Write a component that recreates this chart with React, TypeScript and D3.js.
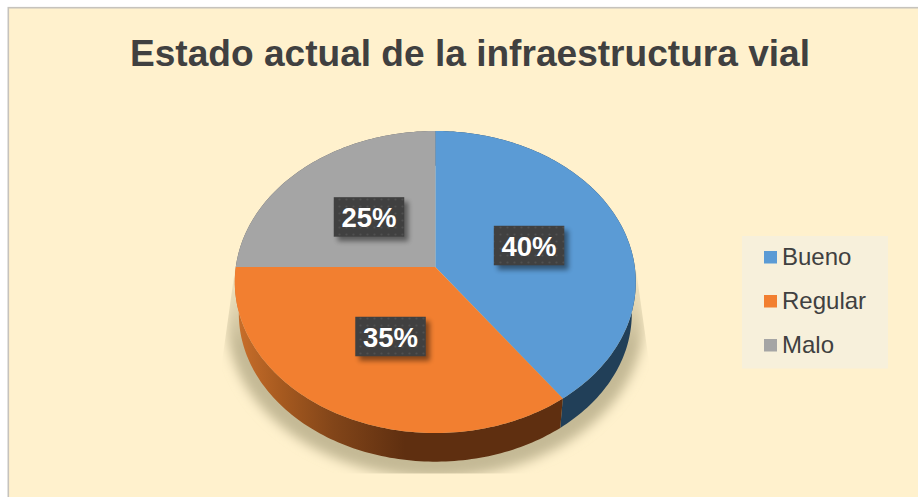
import React from "react";
import * as d3 from "d3";

const categories = ["Bueno", "Regular", "Malo"];
const values = [40, 35, 25];
const colors = ["#5b9bd5", "#f27f30", "#a5a5a5"];
const sideColors = ["#213f58", "url(#orangeSide)", "#5a5a5a"];
const title = "Estado actual de la infraestructura vial";

const W = 918;
const H = 497;
const cx = 435.3;
const cy = 267;
const rx = 199.5;
const ryy = 149.5;
const persp = 0.0993; // foreshortening of the tilted disc
const depth = 32;
const lowScale = 0.98; // lower rim sits a bit further from the viewer

// labels were dragged by hand in the original, so they sit a little off the slice middle
const labelNudgeX = [-0.6, 3.1, 2.5];
const labelNudgeY = [1.5, -0.9, 1.5];

// angle (clockwise from 12 o'clock) -> screen point on the tilted disc
const project = (a: number, f = 1, dy = 0): [number, number] => {
  const u = Math.sin(a) * f;
  const v = Math.cos(a) * f;
  const d = 1 + persp * v;
  return [cx + (rx * u) / d, cy - (ryy * v) / d + dy];
};

const rim = (a0: number, a1: number, f = 1, dy = 0) => {
  const n = Math.max(2, Math.ceil(Math.abs(a1 - a0) / 0.02));
  return d3.range(n + 1).map((i) => project(a0 + ((a1 - a0) * i) / n, f, dy));
};

const line = d3.line();
const pieGen = d3.pie<number>().sort(null);
const arcs = pieGen(values);

const legendY = d3.scalePoint<string>().domain(categories).range([257, 345]);

export default function App() {
  const shadow = rim(Math.PI * 0.5, Math.PI * 1.5, 1.04, 37);
  const shadowShape: [number, number][] = [[cx + rx + 30, cy - 20], ...shadow, [cx - rx - 30, cy - 20]];

  return (
    <svg
      width={W}
      height={H}
      style={{ position: "absolute", left: 0, top: 0, display: "block", background: "#ffffff" }}
    >
      <defs>
        <linearGradient id="orangeSide" gradientUnits="userSpaceOnUse" x1={238} x2={405} y1={0} y2={0}>
          <stop offset="0" stopColor="#c86e2a" />
          <stop offset="0.27" stopColor="#a5591f" />
          <stop offset="0.57" stopColor="#824519" />
          <stop offset="1" stopColor="#5f2f10" />
        </linearGradient>
        <linearGradient id="shadowFill" gradientUnits="userSpaceOnUse" x1={0} x2={0} y1={262} y2={345}>
          <stop offset="0" stopColor="#c9bd9a" stopOpacity={0.05} />
          <stop offset="1" stopColor="#c4b995" stopOpacity={1} />
        </linearGradient>
        <pattern id="dots" width={7} height={7} patternUnits="userSpaceOnUse">
          <rect width={7} height={7} fill="#404040" />
          <circle cx={3.5} cy={3.5} r={1.1} fill="#505050" />
        </pattern>
        <filter id="blur" x="-10%" y="-10%" width="120%" height="120%">
          <feGaussianBlur stdDeviation={6} />
        </filter>
        <filter id="boxShadow" x="-30%" y="-30%" width="170%" height="180%">
          <feGaussianBlur stdDeviation={2.5} />
        </filter>
        <clipPath id="shadowClip">
          <path d="M236,262 L222,362 L222,473.5 L649,473.5 L649,362 L635,262 Z" />
        </clipPath>
      </defs>

      {/* chart area with its thin border */}
      <rect x={8.3} y={7.7} width={W} height={H} fill="#fff1cd" stroke="#c6c3bd" strokeWidth={1.6} />

      <text
        x={470}
        y={66}
        textAnchor="middle"
        fontFamily="'Liberation Sans', Arial, sans-serif"
        fontWeight={700}
        fontSize={37.1}
        fill="#404040"
      >
        {title}
      </text>

      {/* soft shadow under the disc */}
      <g clipPath="url(#shadowClip)">
        <path d={line(shadowShape) + "Z"} fill="url(#shadowFill)" filter="url(#blur)" />
      </g>

      {/* side wall */}
      {arcs.map((a, i) => {
        const top = rim(a.startAngle, a.endAngle);
        const low = rim(a.endAngle, a.startAngle).map(
          ([x, y]): [number, number] => [cx + (x - cx) * lowScale, cy + (y - cy) * lowScale + depth]
        );
        return <path key={i} d={line([...top, ...low]) + "Z"} fill={sideColors[i]} />;
      })}

      {/* top face */}
      {arcs.map((a, i) => {
        const pts: [number, number][] = [[cx, cy], ...rim(a.startAngle, a.endAngle)];
        return <path key={i} d={line(pts) + "Z"} fill={colors[i]} />;
      })}

      {/* percentage labels */}
      {arcs.map((a, i) => {
        const [px, py] = project((a.startAngle + a.endAngle) / 2, 0.505);
        const x = px + labelNudgeX[i];
        const y = py + labelNudgeY[i];
        const bw = 70.5;
        const bh = 39.5;
        return (
          <g key={i}>
            <rect x={x - bw / 2 + 4} y={y - bh / 2 + 4.5} width={bw} height={bh} fill="#000" opacity={0.45} filter="url(#boxShadow)" />
            <rect x={x - bw / 2} y={y - bh / 2} width={bw} height={bh} fill="url(#dots)" />
            <text
              x={x}
              y={y + 10}
              textAnchor="middle"
              fontFamily="'Liberation Sans', Arial, sans-serif"
              fontWeight={700}
              fontSize={27.5}
              fill="#ffffff"
            >
              {a.data}%
            </text>
          </g>
        );
      })}

      {/* legend */}
      <rect x={742} y={236} width={146} height={132.5} fill="#f7f0db" />
      {categories.map((c, i) => (
        <g key={c}>
          <rect x={764} y={legendY(c)! - 6} width={13} height={12.5} fill={colors[i]} />
          <text
            x={782}
            y={legendY(c)! + 8}
            fontFamily="'Liberation Sans', Arial, sans-serif"
            fontSize={24}
            fill="#404040"
          >
            {c}
          </text>
        </g>
      ))}
    </svg>
  );
}
